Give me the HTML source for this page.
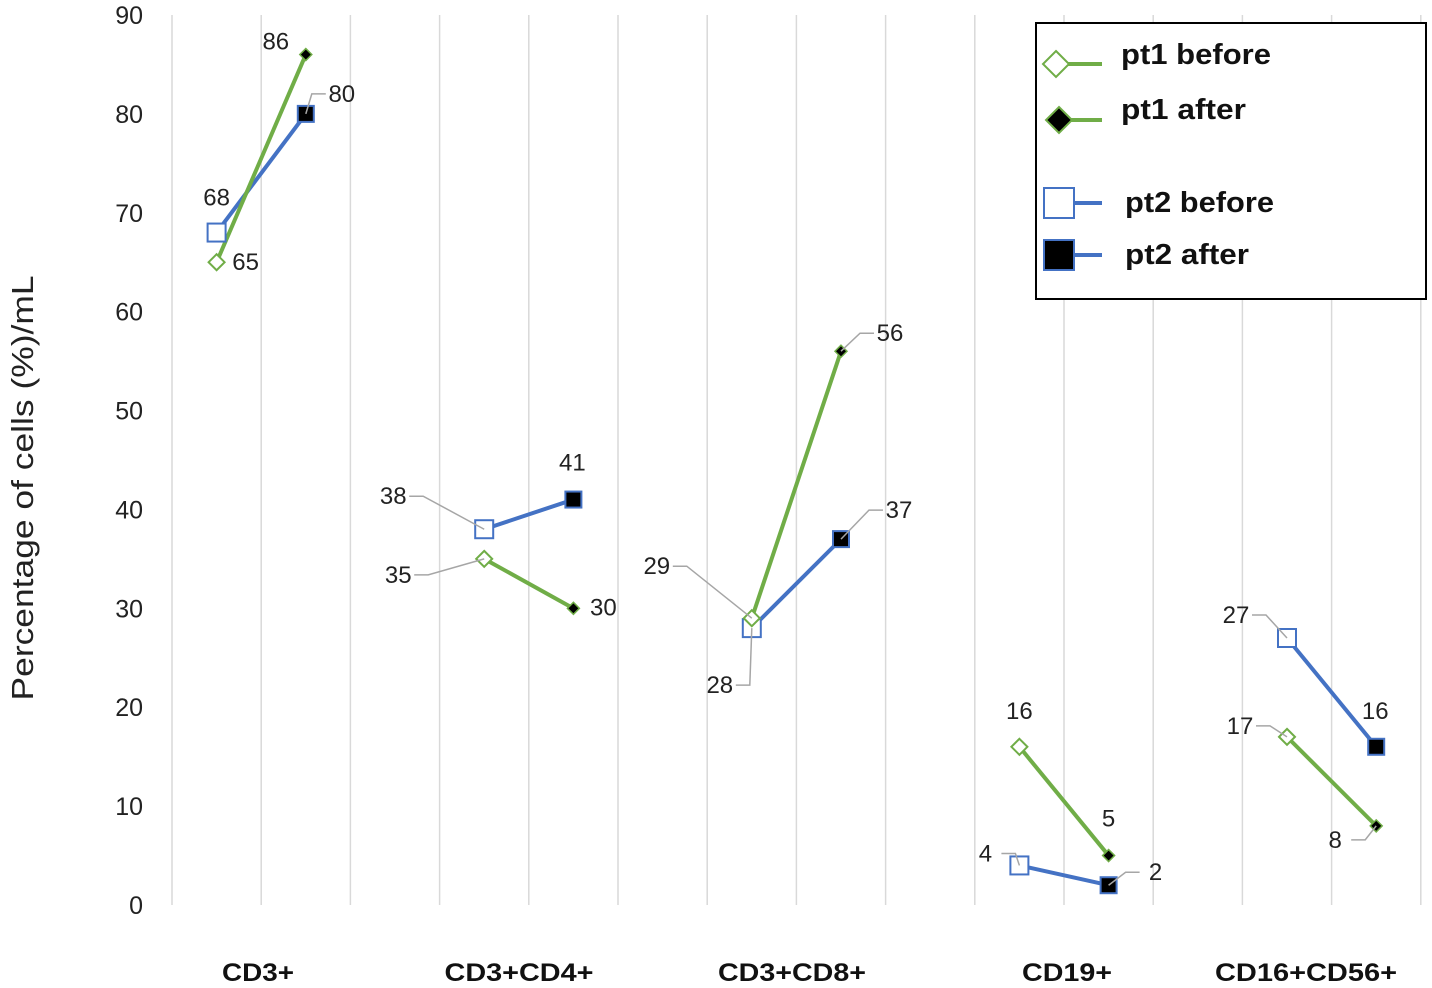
<!DOCTYPE html>
<html><head><meta charset="utf-8"><style>
body{margin:0;background:#fff;}
svg{display:block;font-family:"Liberation Sans",Arial,sans-serif;}
</style></head><body>
<svg id="chart" width="1432" height="988" viewBox="0 0 1432 988"></svg>
<script>
const categories=["CD3+","CD3+CD4+","CD3+CD8+","CD19+","CD16+CD56+"];
const pt1Before=[65,35,29,16,17];
const pt1After=[86,30,56,5,8];
const pt2Before=[68,38,28,4,27];
const pt2After=[80,41,37,2,16];
const yTicks=[0,10,20,30,40,50,60,70,80,90];

const svg=document.getElementById('chart');
const NS='http://www.w3.org/2000/svg';
function mk(t,a,p){const e=document.createElementNS(NS,t);for(const k in a)e.setAttribute(k,a[k]);(p||svg).appendChild(e);return e;}
const x0=172,slot=89.2,yB=905,yT=15;
const yS=v=>yB-(yB-yT)*v/90;
const xS=(g,after)=>x0+slot*(3*g+(after?1:0))+slot/2;

for(let i=0;i<=14;i++){const l=mk('line',{x1:x0+slot*i,x2:x0+slot*i,y1:15,y2:905,stroke:'#d9d9d9','stroke-width':1.5});
}
yTicks.forEach(v=>{const t=mk('text',{x:143,y:yS(v)+9,'text-anchor':'end','font-size':25,fill:'#222'});t.textContent=v;
});
const yt=mk('text',{x:0,y:0,transform:'translate(33,488) rotate(-90)','text-anchor':'middle','font-size':31,fill:'#222',textLength:425,lengthAdjust:'spacingAndGlyphs'});
yt.textContent='Percentage of cells (%)/mL';

const catX=[258,519,792,1067,1306];
const catW=[72,149,148,90,182];
categories.forEach((c,i)=>{const t=mk('text',{x:catX[i],y:981,'text-anchor':'middle','font-size':25,'font-weight':'bold',fill:'#111',textLength:catW[i],lengthAdjust:'spacingAndGlyphs'});t.textContent=c;
});

const lab={
p1b:[[29,8],[-86,24,1],[-95,-44,1],[0,-28],[-47,-3,1]],
p1a:[[-30,-5],[30,7],[49,-10,1],[0,-29],[-41,22,1]],
p2b:[[0,-27],[-91,-25,1],[-32,65,1],[-34,-4,1],[-51,-15,1]],
p2a:[[36,-12,1],[-1,-29],[58,-21,1],[47,-5,1],[-1,-28]]};
function leader(px,py,lx,ly){const side=lx<px?1:-1;const ex=lx+side*16;
 const p=mk('polyline',{points:`${ex},${ly-8} ${ex+side*14},${ly-8} ${px},${py}`,fill:'none',stroke:'#a6a6a6','stroke-width':1.5});
 }

function series(b,a,color,name){
 categories.forEach((c,i)=>{const l=mk('line',{x1:xS(i,0),y1:yS(b[i]),x2:xS(i,1),y2:yS(a[i]),stroke:color,'stroke-width':4});
 });
}
series(pt2Before,pt2After,'#4472c4','pt2');
series(pt1Before,pt1After,'#70ad47','pt1');

function marker(type,x,y){let e;
 if(type==='p1b')e=mk('polygon',{points:`${x},${y-8} ${x+8},${y} ${x},${y+8} ${x-8},${y}`,fill:'#fff',stroke:'#70ad47','stroke-width':2});
 if(type==='p1a')e=mk('polygon',{points:`${x},${y-6} ${x+6},${y} ${x},${y+6} ${x-6},${y}`,fill:'#000',stroke:'#70ad47','stroke-width':1.5});
 if(type==='p2b')e=mk('rect',{x:x-9,y:y-9,width:18,height:18,fill:'#fff',stroke:'#4472c4','stroke-width':2});
 if(type==='p2a')e=mk('rect',{x:x-8,y:y-8,width:16,height:16,fill:'#000',stroke:'#4472c4','stroke-width':2});
 return e;}
const sets=[['p2b',pt2Before,0],['p2a',pt2After,1],['p1b',pt1Before,0],['p1a',pt1After,1]];
sets.forEach(([k,arr,af])=>{arr.forEach((v,i)=>{const px=xS(i,af),py=yS(v);
 const m=marker(k,px,py);
 const o=lab[k][i];const lx=px+o[0],ly=py+o[1];
 if(o[2])leader(px,py,lx,ly);
 const t=mk('text',{x:lx,y:ly,'text-anchor':'middle','font-size':24,fill:'#222'});t.textContent=v;
 });});

const lg=mk('g',{});
mk('rect',{x:1036,y:23,width:390,height:276,fill:'#fff',stroke:'#000','stroke-width':2},lg);
const entries=[['p1b','pt1 before',64,'#70ad47',150],['p1a','pt1 after',120,'#70ad47',125],['p2b','pt2 before',203,'#4472c4',149],['p2a','pt2 after',255,'#4472c4',124]];
entries.forEach(([k,txt,y,c,w])=>{const g=mk('g',{},lg);
 mk('line',{x1:1060,x2:1102,y1:y,y2:y,stroke:c,'stroke-width':4},g);
 if(k==='p1b')mk('polygon',{points:`1056,${y-13} 1069,${y} 1056,${y+13} 1043,${y}`,fill:'#fff',stroke:c,'stroke-width':2},g);
 if(k==='p1a')mk('polygon',{points:`1059,${y-13} 1072,${y} 1059,${y+13} 1046,${y}`,fill:'#000',stroke:c,'stroke-width':2},g);
 if(k==='p2b')mk('rect',{x:1044,y:y-15,width:30,height:30,fill:'#fff',stroke:c,'stroke-width':2},g);
 if(k==='p2a')mk('rect',{x:1044,y:y-15,width:30,height:30,fill:'#000',stroke:c,'stroke-width':2},g);
 const t=mk('text',{x:k[1]==='1'?1121:1125,y:y,'font-size':29,'font-weight':'bold',fill:'#111',textLength:w,lengthAdjust:'spacingAndGlyphs'},g);t.textContent=txt;
 t.setAttribute('y',y+(k==='p1b'?0:k==='p1a'?-1:9));});
</script>
</body></html>
